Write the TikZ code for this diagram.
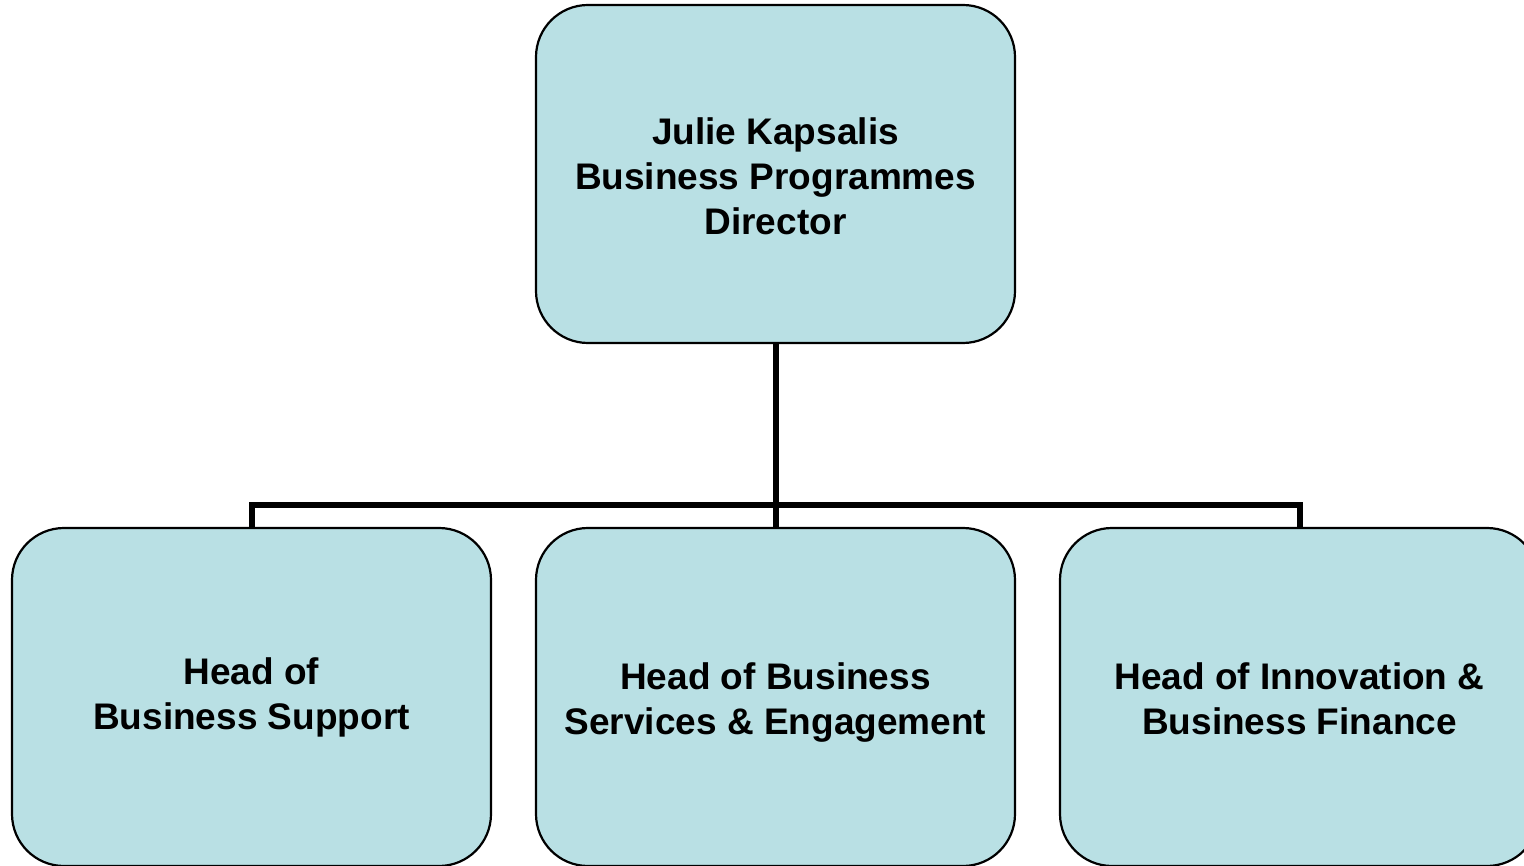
\documentclass[tikz,border=0pt]{standalone}
\usepackage{fontspec}
\setmainfont{Liberation Sans}
\definecolor{boxfill}{RGB}{185,224,228}
\begin{document}
\begin{tikzpicture}[x=1pt,y=-1pt,
  orgbox/.style={draw=black, line width=2.2pt, fill=boxfill, rounded corners=52pt,
    minimum width=479pt, minimum height=338pt, inner sep=0pt},
  boxtext/.style={align=center, inner sep=0pt, font=\fontsize{37}{45}\selectfont\bfseries},
  link/.style={line width=6pt, black}]
\useasboundingbox (0,0) rectangle (1524,866);
\node[orgbox] (top) at (775.5,174) {};
\node[orgbox] (left) at (251.5,697) {};
\node[orgbox] (mid) at (775.5,697) {};
\node[orgbox] (right) at (1299.5,697) {};
\node[boxtext] (topt) at ([yshift=-2pt]top.center) {Julie Kapsalis\\Business Programmes\\Director};
\node[boxtext] (leftt) at (left.center) {Head of\\Business Support};
\node[boxtext] (midt) at ([yshift=-6pt]mid.center) {Head of Business\\Services \& Engagement};
\node[boxtext] (rightt) at ([yshift=-2pt]right.center) {Head of Innovation \&\\Business Finance};
\coordinate (bus) at (775.5,505);
\draw[link] (top.south) -- (bus);
\draw[link] (left.north) |- (bus) -| (right.north);
\draw[link] (bus) -- (mid.north);
\end{tikzpicture}
\end{document}
